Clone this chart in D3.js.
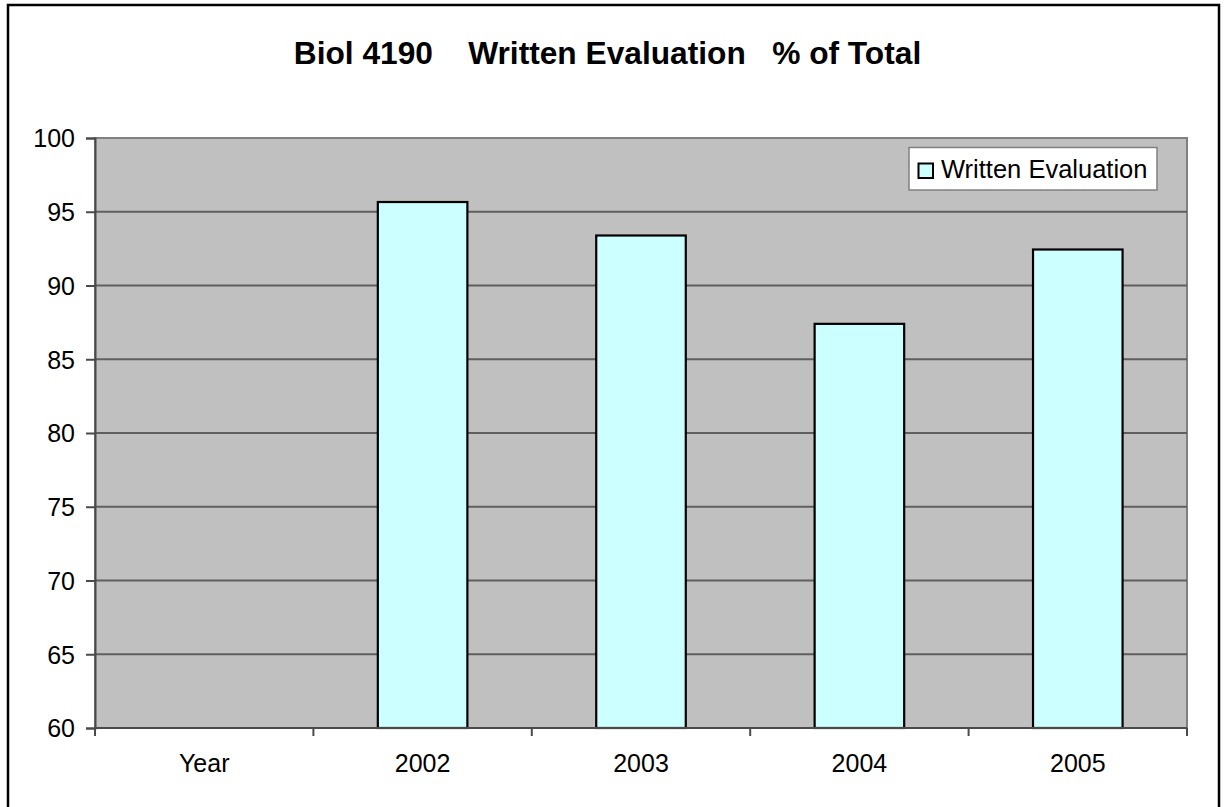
<!DOCTYPE html>
<html><head><meta charset="utf-8">
<script src="https://cdn.jsdelivr.net/npm/d3@7"></script>
<style>
html,body{margin:0;padding:0;background:#fff;}
svg{display:block;font-family:"Liberation Sans",Arial,sans-serif;}
</style></head>
<body>
<svg id="chart" width="1225" height="807"></svg>
<script>
const categories = ["Year", "2002", "2003", "2004", "2005"];
const values = [null, 95.66, 93.39, 87.4, 92.44];
const yTicks = [60, 65, 70, 75, 80, 85, 90, 95, 100];
const seriesName = "Written Evaluation";
const titleText = "Biol 4190    Written Evaluation   % of Total";

const svg = d3.select("#chart");
const m = {left: 95, right: 1187, top: 138, bottom: 728};

// outer border
svg.append("rect").attr("x", 8).attr("y", 5).attr("width", 1211).attr("height", 820)
  .attr("fill", "#fff").attr("stroke", "#000").attr("stroke-width", 2.5);

const x = d3.scaleBand().domain(categories).range([m.left, m.right]).padding(0);
const y = d3.scaleLinear().domain([60, 100]).range([m.bottom, m.top]);

// plot background
svg.append("rect").attr("x", m.left).attr("y", m.top)
  .attr("width", m.right - m.left).attr("height", m.bottom - m.top)
  .attr("fill", "#C0C0C0").attr("stroke", "#808080").attr("stroke-width", 2);

// gridlines
svg.append("g").selectAll("line").data(yTicks.filter(d => d > 60 && d < 100)).join("line")
  .attr("x1", m.left).attr("x2", m.right)
  .attr("y1", d => y(d)).attr("y2", d => y(d))
  .attr("stroke", "#5f5f5f").attr("stroke-width", 2);

// bars
const barW = x.bandwidth() * 0.41;
svg.append("g").selectAll("rect").data(categories.map((c, i) => ({c, v: values[i]})).filter(d => d.v != null))
  .join("rect")
  .attr("x", d => x(d.c) + x.bandwidth() / 2 - barW / 2)
  .attr("y", d => y(d.v))
  .attr("width", barW)
  .attr("height", d => y(60) - y(d.v))
  .attr("fill", "#CCFFFF").attr("stroke", "#000").attr("stroke-width", 2.2);

// y axis
const yAxis = d3.axisLeft(y).tickValues(yTicks).tickSize(9).tickPadding(11).tickFormat(d3.format("d"));
const gy = svg.append("g").attr("transform", `translate(${m.left},0)`).call(yAxis);
gy.select(".domain").attr("stroke", "#4a4a4a").attr("stroke-width", 2);
gy.selectAll(".tick line").attr("stroke", "#4a4a4a").attr("stroke-width", 2);
gy.selectAll(".tick text").attr("font-size", 25).attr("fill", "#000")
  .attr("font-family", "Liberation Sans, Arial, sans-serif").attr("dy", "0.35em");

// x axis
const gx = svg.append("g").attr("transform", `translate(0,${m.bottom})`);
gx.append("line").attr("x1", m.left).attr("x2", m.right).attr("y1", 0).attr("y2", 0)
  .attr("stroke", "#4a4a4a").attr("stroke-width", 2);
const bounds = categories.map(c => x(c)).concat([x(categories[categories.length - 1]) + x.bandwidth()]);
gx.selectAll("line.tk").data(bounds).join("line").attr("class", "tk")
  .attr("x1", d => d).attr("x2", d => d).attr("y1", 0).attr("y2", 8)
  .attr("stroke", "#4a4a4a").attr("stroke-width", 2);
gx.selectAll("text").data(categories).join("text")
  .attr("x", d => x(d) + x.bandwidth() / 2).attr("y", 44)
  .attr("text-anchor", "middle").attr("font-size", 25).attr("fill", "#000")
  .text(d => d);

// title
svg.append("text").attr("x", 607.5).attr("y", 64).attr("text-anchor", "middle")
  .attr("font-size", 31.7).attr("font-weight", "bold").attr("fill", "#000")
  .attr("xml:space", "preserve").style("white-space", "pre")
  .text(titleText);

// legend
const lg = svg.append("g");
lg.append("rect").attr("x", 909).attr("y", 147.5).attr("width", 248).attr("height", 42.5)
  .attr("fill", "#fff").attr("stroke", "#808080").attr("stroke-width", 1.5);
lg.append("rect").attr("x", 918.5).attr("y", 163.5).attr("width", 14.5).attr("height", 14.5)
  .attr("fill", "#CCFFFF").attr("stroke", "#000").attr("stroke-width", 2);
lg.append("text").attr("x", 941).attr("y", 177.5).attr("font-size", 25.5).attr("fill", "#000")
  .text(seriesName);
</script>
</body></html>
